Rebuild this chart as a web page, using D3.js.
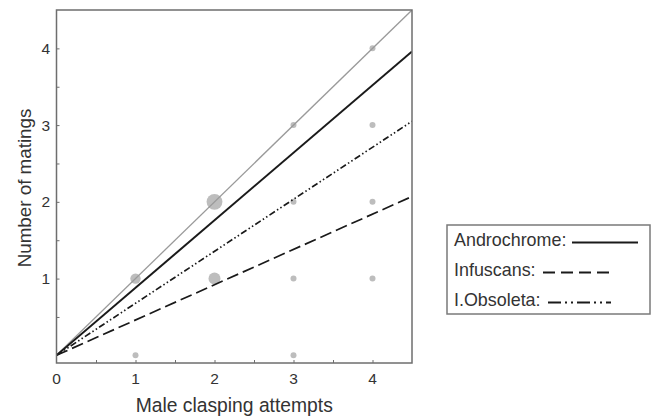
<!DOCTYPE html>
<html><head><meta charset="utf-8">
<script src="https://cdn.jsdelivr.net/npm/d3@7"></script>
<style>body{margin:0;background:#fff}svg{display:block}text{font-family:"Liberation Sans",Arial,sans-serif;fill:#333}</style>
</head><body><svg id="c" width="652" height="416"></svg>
<script>
// Data
const xTickLabels = [0, 1, 2, 3, 4];
const yTickLabels = [1, 2, 3, 4];
const minorTicks = [0.5, 1, 1.5, 2, 2.5, 3, 3.5, 4];
const pointX = [1, 1, 2, 2, 3, 3, 3, 3, 4, 4, 4, 4];
const pointY = [0, 1, 1, 2, 0, 1, 2, 3, 1, 2, 3, 4];
const pointN = [1, 3, 4, 7, 1, 1, 1, 1, 1, 1, 1, 1];
const lineX = [0, 4.5];
const equalityY = [0, 4.5];
const androchromeY = [0, 3.96];
const infuscansY = [0, 2.07];
const obsoletaY = [0, 3.05];
const seriesNames = ["Androchrome:", "Infuscans:", "I.Obsoleta:"];

const svg = d3.select("#c");
const L = 56.5, R = 412, T = 10, B = 363;
const x = d3.scaleLinear().domain([0, 4.5]).range([L, R]);
const y = d3.scaleLinear().domain([-0.1, 4.5]).range([B, T]);
const r = d3.scaleSqrt().domain([0, 1]).range([0, 3]);

// points
svg.append("g").selectAll("circle").data(pointX.map((d, i) => ({x: d, y: pointY[i], n: pointN[i]})))
  .join("circle").attr("cx", d => x(d.x)).attr("cy", d => y(d.y)).attr("r", d => r(d.n))
  .attr("fill", "#bdbdbd");

// lines
const line = d3.line().x(d => x(d[0])).y(d => y(d[1]));
const styles = [
  {ys: equalityY, stroke: "#9a9a9a", w: 1.3, dash: null},
  {ys: androchromeY, stroke: "#1a1a1a", w: 2, dash: null},
  {ys: infuscansY, stroke: "#1a1a1a", w: 1.7, dash: "12,5"},
  {ys: obsoletaY, stroke: "#1a1a1a", w: 1.7, dash: "6.5,2.5,1.5,2.5,1.5,2.5"}
];
svg.append("clipPath").attr("id", "pc").append("rect").attr("x", L).attr("y", T).attr("width", R - L).attr("height", B - T);
styles.forEach(s => {
  svg.append("path").datum(lineX.map((v, i) => [v, s.ys[i]])).attr("d", line)
    .attr("fill", "none").attr("stroke", s.stroke).attr("stroke-width", s.w)
    .attr("stroke-dasharray", s.dash).attr("clip-path", "url(#pc)");
});

// axes frame
svg.append("rect").attr("x", L).attr("y", T).attr("width", R - L).attr("height", B - T)
  .attr("fill", "none").attr("stroke", "#6e6e6e").attr("stroke-width", 1.5);

// ticks (inward)
const xa = d3.axisTop(x).tickValues(minorTicks).tickSize(3).tickFormat("");
svg.append("g").attr("transform", `translate(0,${B})`).call(xa).call(g => { g.select(".domain").remove(); g.selectAll("line").attr("stroke", "#6e6e6e"); });
const ya = d3.axisRight(y).tickValues(minorTicks).tickSize(3).tickFormat("");
svg.append("g").attr("transform", `translate(${L},0)`).call(ya).call(g => { g.select(".domain").remove(); g.selectAll("line").attr("stroke", "#6e6e6e"); });

// tick labels
svg.append("g").selectAll("text").data(xTickLabels).join("text")
  .attr("x", d => x(d)).attr("y", 383.5).attr("text-anchor", "middle").attr("font-size", 15.5).text(d => d);
svg.append("g").selectAll("text").data(yTickLabels).join("text")
  .attr("x", 50).attr("y", d => y(d) + 5.5).attr("text-anchor", "end").attr("font-size", 15.5).text(d => d);

// axis titles
svg.append("text").attr("x", (L + R) / 2).attr("y", 412).attr("text-anchor", "middle").attr("font-size", 19.3).text("Male clasping attempts");
svg.append("text").attr("transform", "translate(31,188) rotate(-90)").attr("text-anchor", "middle").attr("font-size", 18.8).text("Number of matings");

// legend
svg.append("rect").attr("x", 447).attr("y", 225).attr("width", 203).attr("height", 89)
  .attr("fill", "#fff").attr("stroke", "#7a7a7a").attr("stroke-width", 1.5);
const legRows = [
  {tx: 454, ty: 246, x1: 572, x2: 638, ly: 242.5, w: 2, dash: null},
  {tx: 454, ty: 276, x1: 543, x2: 609, ly: 272.5, w: 1.8, dash: "12,6"},
  {tx: 454, ty: 306, x1: 548, x2: 611, ly: 302.5, w: 1.8, dash: "13,4,2,4,2,4"}
];
legRows.forEach((d, i) => {
  svg.append("text").attr("x", d.tx).attr("y", d.ty).attr("font-size", 17.9).attr("fill", "#222").text(seriesNames[i]);
  svg.append("line").attr("x1", d.x1).attr("x2", d.x2).attr("y1", d.ly).attr("y2", d.ly)
    .attr("stroke", "#1a1a1a").attr("stroke-width", d.w).attr("stroke-dasharray", d.dash);
});
</script></body></html>
